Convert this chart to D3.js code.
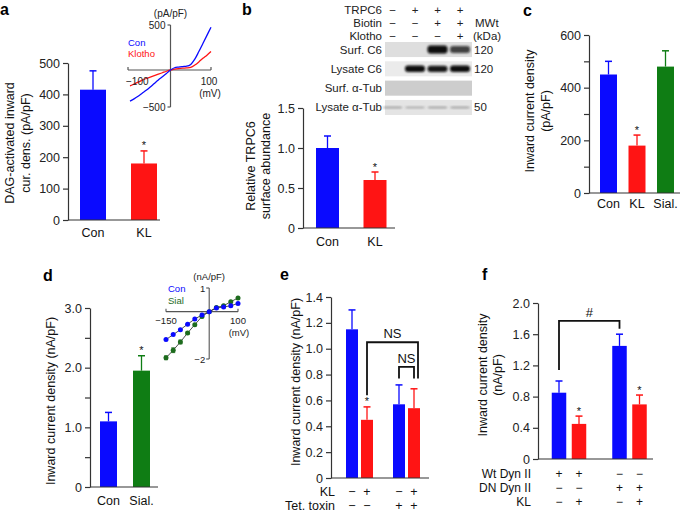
<!DOCTYPE html>
<html><head><meta charset="utf-8">
<script src="https://cdn.jsdelivr.net/npm/d3@7"></script>
<style>
body{margin:0;background:#fff;}
svg{font-family:"Liberation Sans", Arial, Helvetica, sans-serif;}
</style></head><body>
<svg id="chart" width="685" height="513"></svg>
<script>
// ---------------- DATA ----------------
// Panel a
const aCategories = ["Con", "KL"];
const aMeans = [415, 180];
const aErrors = [60, 40];
const aSignif = ["", "*"];
const aTicks = [0, 100, 200, 300, 400, 500];
// Panel a inset (I–V curves)
const aIvVoltage = [-100,-90,-80,-70,-60,-50,-40,-30,-20,-10,0,10,20,30,40,50,60,70,80,90,100];
const aIvCon =    [-420,-390,-355,-315,-275,-230,-182,-135,-92,-48,0,25,33,38,42,62,120,205,295,385,475];
const aIvKlotho = [-215,-190,-165,-138,-115,-95,-76,-57,-37,-17,0,10,16,20,23,30,55,90,130,165,205];
const aIvSeries = ["Con", "Klotho"];
// Panel b
const bCategories = ["Con", "KL"];
const bMeans = [1.0, 0.6];
const bErrors = [0.15, 0.1];
const bSignif = ["", "*"];
const bTicks = [0, 0.5, 1.0, 1.5];
const bTableRows = ["TRPC6", "Biotin", "Klotho"];
const bTableSigns = [["−","+","+","+"],["−","−","+","+"],["−","−","−","+"]];
const bBlotRows = ["Surf. C6", "Lysate C6", "Surf. α-Tub", "Lysate α-Tub"];
const bBandIntensity = [[0,0,1,0.75],[0,1,0.95,1],[0,0,0,0],[0.6,0.5,0.6,0.6]];
const bMWt = ["120", "120", "", "50"];
// Panel c
const cCategories = ["Con", "KL", "Sial."];
const cMeans = [450, 180, 480];
const cErrors = [50, 40, 60];
const cSignif = ["", "*", ""];
const cTicks = [0, 100, 200, 300, 400, 500, 600];
// Panel d
const dCategories = ["Con", "Sial."];
const dMeans = [1.1, 1.95];
const dErrors = [0.15, 0.25];
const dSignif = ["", "*"];
const dTicks = [0, 0.5, 1.0, 1.5, 2.0, 2.5, 3.0];
// Panel d inset
const dIvVoltage = [-150,-125,-100,-75,-50,-25,0,25,50,75,100];
const dIvCon =  [-1.18,-0.97,-0.76,-0.53,-0.31,-0.14,0,0.15,0.2,0.25,0.35];
const dIvSial = [-1.95,-1.63,-1.28,-0.9,-0.55,-0.2,0,0.18,0.25,0.42,0.58];
const dIvSialErr = [0.08,0.1,0.08,0.04,0,0,0,0,0,0,0];
const dIvSeries = ["Con", "Sial"];
// Panel e
const eKL  = ["−","+","−","+"];
const eTTX = ["−","−","+","+"];
const eMeans = [1.15, 0.45, 0.57, 0.54];
const eErrors = [0.15, 0.10, 0.15, 0.15];
const eSignif = ["", "*", "", ""];
const eTicks = [0, 0.2, 0.4, 0.6, 0.8, 1.0, 1.2, 1.4];
const eBrackets = [
  {from: 1, to: 3, top: 1.05, end1: 0.64, end2: 0.77, label: "NS"},
  {from: 2, to: 3, top: 0.86, end1: 0.77, end2: 0.77, label: "NS"}
];
// Panel f
const fWt = ["+","+","−","−"];
const fDN = ["−","−","+","+"];
const fKL = ["−","+","−","+"];
const fMeans = [0.85, 0.45, 1.45, 0.70];
const fErrors = [0.15, 0.10, 0.15, 0.12];
const fSignif = ["", "*", "", "*"];
const fTicks = [0, 0.4, 0.8, 1.2, 1.6, 2.0];
const fBrackets = [{from: 0, to: 2, top: 1.77, end1: 1.14, end2: 1.67, label: "#"}];

// ---------------- STYLE ----------------
const BLUE = "#0a0aff", RED = "#ff1414", GREEN = "#0f7d14", DKGREEN = "#1d6b1d";
const AX = "#333";
const svg = d3.select("#chart");

function yAxis(g, y, x, ticks, fmt) {
  const ax = d3.axisLeft(y).tickValues(ticks).tickFormat(fmt).tickSize(5).tickSizeOuter(0).tickPadding(3);
  const a = g.append("g").attr("transform", `translate(${x},0)`).call(ax);
  a.attr("font-family", null).attr("font-size", null);
  a.select(".domain").attr("stroke", AX).attr("stroke-width", 1.2);
  a.selectAll(".tick line").attr("stroke", AX).attr("stroke-width", 1.2);
  a.selectAll(".tick text").attr("fill", "#222").style("font-size", "12.5px");
  return a;
}
function xLine(g, y, x0, x1) {
  g.append("line").attr("x1", x0).attr("x2", x1).attr("y1", y(0)).attr("y2", y(0))
    .attr("stroke", AX).attr("stroke-width", 1.2);
}
function bars(g, y, cx, w, means, errs, colors, signif) {
  const d = means.map((m, i) => ({m, e: errs[i], c: colors[i], x: cx[i], s: signif[i]}));
  g.selectAll(null).data(d).join("rect")
    .attr("x", d => d.x - w / 2).attr("width", w)
    .attr("y", d => y(d.m)).attr("height", d => y(0) - y(d.m)).attr("fill", d => d.c);
  g.selectAll(null).data(d).join("line")
    .attr("x1", d => d.x).attr("x2", d => d.x).attr("y1", d => y(d.m)).attr("y2", d => y(d.m + d.e))
    .attr("stroke", d => d.c).attr("stroke-width", 1.3);
  g.selectAll(null).data(d).join("line")
    .attr("x1", d => d.x - 3.5).attr("x2", d => d.x + 3.5).attr("y1", d => y(d.m + d.e)).attr("y2", d => y(d.m + d.e))
    .attr("stroke", d => d.c).attr("stroke-width", 1.5);
  g.selectAll(null).data(d.filter(d => d.s)).join("text")
    .attr("x", d => d.x).attr("y", d => y(d.m + d.e) - 1.5).attr("text-anchor", "middle")
    .style("font-size", "11px").attr("fill", "#111").text(d => d.s);
}
function catLabels(g, cx, labels, yb) {
  g.selectAll(null).data(labels).join("text").attr("x", (d, i) => cx[i]).attr("y", yb)
    .attr("text-anchor", "middle").style("font-size", "12.5px").attr("fill", "#111").text(d => d);
}
function yTitle(g, lines, xs, yc, fs) {
  lines.forEach((t, i) => {
    g.append("text").attr("transform", `translate(${xs[i]},${yc}) rotate(-90)`)
      .attr("text-anchor", "middle").attr("dy", "0.35em").style("font-size", (fs || 12.5) + "px")
      .attr("fill", "#111").text(t);
  });
}
function panelLetter(x, y, t) {
  svg.append("text").attr("x", x).attr("y", y).style("font-size", "16px").style("font-weight", "bold")
    .attr("fill", "#000").text(t);
}
function bracket(g, y, x1, x2, b) {
  g.append("path").attr("d", `M${x1},${y(b.end1)}V${y(b.top)}H${x2}V${y(b.end2)}`)
    .attr("fill", "none").attr("stroke", "#111").attr("stroke-width", 1.8);
  g.append("text").attr("x", (x1 + x2) / 2).attr("y", y(b.top) - 4).attr("text-anchor", "middle")
    .style("font-size", "13px").attr("fill", "#111").text(b.label);
}
function signRows(g, cx, rowNames, rowSigns, baselines, labelX, fs) {
  rowNames.forEach((n, r) => {
    g.append("text").attr("x", labelX).attr("y", baselines[r]).attr("text-anchor", "end")
      .style("font-size", fs + "px").attr("fill", "#111").text(n);
    g.selectAll(null).data(rowSigns[r]).join("text").attr("x", (d, i) => cx[i]).attr("y", baselines[r])
      .attr("text-anchor", "middle").style("font-size", fs + "px").attr("fill", "#111").text(d => d);
  });
}

// ---------------- PANEL A ----------------
{
  const g = svg.append("g");
  const y = d3.scaleLinear().domain([0, 500]).range([220, 63]);
  const x = d3.scalePoint().domain(aCategories).range([93, 144]);
  const cx = aCategories.map(x);
  bars(g, y, cx, 26, aMeans, aErrors, [BLUE, RED], aSignif);
  yAxis(g, y, 68, aTicks, d3.format("d"));
  xLine(g, y, 68, 160);
  catLabels(g, cx, aCategories, 237);
  yTitle(g, ["DAG-activated inward", "cur. dens. (pA/pF)"], [10, 26], 143);
  panelLetter(0, 15, "a");

  // inset
  const ix = d3.scaleLinear().domain([-100, 100]).range([130, 211]);
  const iy = d3.scaleLinear().domain([-500, 0, 500]).range([107, 70, 25]);
  const ig = svg.append("g");
  ig.append("line").attr("x1", ix(0)).attr("x2", ix(0)).attr("y1", iy(500)).attr("y2", iy(-500)).attr("stroke", "#555").attr("stroke-width", 1.2);
  ig.append("line").attr("x1", ix(-100) - 2).attr("x2", ix(100)).attr("y1", iy(0)).attr("y2", iy(0)).attr("stroke", "#555").attr("stroke-width", 1.2);
  [500, -500].forEach(v => ig.append("line").attr("x1", ix(0) - 3).attr("x2", ix(0)).attr("y1", iy(v)).attr("y2", iy(v)).attr("stroke", "#555").attr("stroke-width", 1.2));
  [-100, 100].forEach(v => ig.append("line").attr("x1", ix(v) + (v < 0 ? -2 : 0)).attr("x2", ix(v) + (v < 0 ? -2 : 0)).attr("y1", iy(0)).attr("y2", iy(0) - 3).attr("stroke", "#555").attr("stroke-width", 1.2));
  const line = d3.line().x((d, i) => ix(aIvVoltage[i])).y(d => iy(d)).curve(d3.curveMonotoneX);
  ig.append("path").attr("d", line(aIvKlotho)).attr("fill", "none").attr("stroke", RED).attr("stroke-width", 1.3);
  ig.append("path").attr("d", line(aIvCon)).attr("fill", "none").attr("stroke", BLUE).attr("stroke-width", 1.3);
  const tx = (x, y, t, anchor, fs, col) => ig.append("text").attr("x", x).attr("y", y).attr("text-anchor", anchor)
    .style("font-size", fs + "px").attr("fill", col || "#222").text(t);
  tx(ix(0), 17, "(pA/pF)", "middle", 10);
  tx(ix(0) - 5, iy(500) + 3.5, "500", "end", 10);
  tx(ix(0) - 5, iy(-500) + 3.5, "−500", "end", 10);
  tx(ix(-100) - 4, iy(0) + 15, "−100", "start", 10);
  tx(ix(100) - 2, iy(0) + 15, "100", "middle", 10);
  tx(ix(100) - 1, iy(0) + 27, "(mV)", "middle", 10);
  tx(128, 46, aIvSeries[0], "start", 9.5, BLUE);
  tx(128, 57, aIvSeries[1], "start", 9.5, RED);
}

// ---------------- PANEL B ----------------
{
  const g = svg.append("g");
  const y = d3.scaleLinear().domain([0, 1.5]).range([228, 108]);
  const x = d3.scalePoint().domain(bCategories).range([327.5, 375]);
  const cx = bCategories.map(x);
  bars(g, y, cx, 23, bMeans, bErrors, [BLUE, RED], bSignif);
  yAxis(g, y, 303, bTicks, d => d === 0 ? "0" : d3.format(".1f")(d));
  xLine(g, y, 303, 395);
  catLabels(g, cx, bCategories, 246);
  yTitle(g, ["Relative TRPC6", "surface abundance"], [251, 266], 166);
  panelLetter(242, 15, "b");

  // blot table
  const col = d3.scalePoint().domain(d3.range(4)).range([392.5, 460]);
  const tRow = d3.scalePoint().domain(bTableRows).range([10, 36]);
  const tg = svg.append("g");
  bTableRows.forEach((r, i) => {
    tg.append("text").attr("x", 382).attr("y", tRow(r)).attr("dy", "0.35em").attr("text-anchor", "end")
      .style("font-size", "11.5px").attr("fill", "#222").text(r);
    tg.selectAll(null).data(bTableSigns[i]).join("text").attr("x", (d, j) => col(j)).attr("y", tRow(r)).attr("dy", "0.35em")
      .attr("text-anchor", "middle").style("font-size", "11.5px").attr("fill", "#222").text(d => d);
  });
  tg.append("text").attr("x", 475).attr("y", tRow("Biotin")).attr("dy", "0.35em").style("font-size", "11.5px").attr("fill", "#222").text("MWt");
  tg.append("text").attr("x", 473).attr("y", tRow("Klotho")).attr("dy", "0.35em").style("font-size", "11.5px").attr("fill", "#222").text("(kDa)");

  const defs = svg.append("defs");
  defs.append("filter").attr("id", "blur").attr("x", "-20%").attr("y", "-50%").attr("width", "140%").attr("height", "200%")
    .append("feGaussianBlur").attr("stdDeviation", 0.9);
  const bRow = d3.scaleBand().domain(bBlotRows).range([42, 115]).paddingInner(0.22);
  const boxFill = ["#dedede", "#ebebeb", "#cdcdcd", "#e4e4e4"];
  const bandH = [8, 6.5, 0, 2];
  bBlotRows.forEach((r, i) => {
    const yy = bRow(r), h = bRow.bandwidth();
    tg.append("text").attr("x", 382).attr("y", yy + h / 2).attr("dy", "0.35em").attr("text-anchor", "end")
      .style("font-size", "11.5px").attr("fill", "#222").text(r);
    tg.append("rect").attr("x", 385).attr("y", yy).attr("width", 87).attr("height", h).attr("fill", boxFill[i]);
    tg.selectAll(null).data(bBandIntensity[i]).join("rect")
      .attr("x", (d, j) => col(j) - 10).attr("width", 20)
      .attr("y", d => yy + h / 2 - bandH[i] * (0.55 + 0.45 * d) / 2).attr("height", d => bandH[i] * (0.55 + 0.45 * d))
      .attr("rx", 3).attr("fill", i === 3 ? "#555" : "#0a0a0a").attr("opacity", d => d)
      .attr("filter", "url(#blur)");
    if (bMWt[i]) tg.append("text").attr("x", 474).attr("y", yy + h / 2).attr("dy", "0.35em")
      .style("font-size", "11.5px").attr("fill", "#222").text(bMWt[i]);
  });
}

// ---------------- PANEL C ----------------
{
  const g = svg.append("g");
  const y = d3.scaleLinear().domain([0, 600]).range([193, 35]);
  const x = d3.scalePoint().domain(cCategories).range([608.5, 665.5]);
  const cx = cCategories.map(x);
  bars(g, y, cx, 17, cMeans, cErrors, [BLUE, RED, GREEN], cSignif);
  yAxis(g, y, 589, cTicks, d => d % 200 === 0 ? d : "");
  xLine(g, y, 589, 680);
  catLabels(g, cx, cCategories, 208);
  yTitle(g, ["Inward current density", "(pA/pF)"], [530, 546], 111);
  panelLetter(523, 16, "c");
}

// ---------------- PANEL D ----------------
{
  const g = svg.append("g");
  const y = d3.scaleLinear().domain([0, 3]).range([487, 308]);
  const x = d3.scalePoint().domain(dCategories).range([108.5, 141.5]);
  const cx = dCategories.map(x);
  bars(g, y, cx, 17, dMeans, dErrors, [BLUE, GREEN], dSignif);
  yAxis(g, y, 90, dTicks, d => d === 0 ? "0" : (d % 1 === 0 ? d3.format(".1f")(d) : ""));
  xLine(g, y, 90, 158);
  catLabels(g, cx, dCategories, 505);
  yTitle(g, ["Inward current density (nA/pF)"], [51], 401);
  panelLetter(43, 281, "d");

  // inset
  const ix = d3.scaleLinear().domain([-150, 100]).range([166, 238]);
  const iy = d3.scaleLinear().domain([-2, 1]).range([359, 288]);
  const ig = svg.append("g");
  ig.append("line").attr("x1", ix(0)).attr("x2", ix(0)).attr("y1", iy(1)).attr("y2", iy(-2)).attr("stroke", "#555").attr("stroke-width", 1.1);
  ig.append("line").attr("x1", ix(-150)).attr("x2", ix(100)).attr("y1", iy(0)).attr("y2", iy(0)).attr("stroke", "#555").attr("stroke-width", 1.1);
  [1, -2].forEach(v => ig.append("line").attr("x1", ix(0) - 3).attr("x2", ix(0)).attr("y1", iy(v)).attr("y2", iy(v)).attr("stroke", "#555").attr("stroke-width", 1.1));
  [-150, 100].forEach(v => ig.append("line").attr("x1", ix(v)).attr("x2", ix(v)).attr("y1", iy(0)).attr("y2", iy(0) - 3).attr("stroke", "#555").attr("stroke-width", 1.1));
  const line = d3.line().x((d, i) => ix(dIvVoltage[i])).y(d => iy(d));
  [dIvCon, dIvSial].forEach(s => {
    ig.append("path").attr("d", line(s)).attr("fill", "none").attr("stroke", "#222").attr("stroke-width", 0.8);
  });
  dIvSial.forEach((v, i) => {
    const e = dIvSialErr[i];
    if (e > 0) {
      const xx = ix(dIvVoltage[i]);
      ig.append("path").attr("d", `M${xx},${iy(v - e)}V${iy(v + e)}M${xx - 2},${iy(v - e)}H${xx + 2}M${xx - 2},${iy(v + e)}H${xx + 2}`)
        .attr("stroke", DKGREEN).attr("stroke-width", 0.9).attr("fill", "none");
    }
  });
  [[dIvSial, DKGREEN], [dIvCon, BLUE]].forEach(([s, c]) => {
    ig.selectAll(null).data(s).join("circle").attr("cx", (d, i) => ix(dIvVoltage[i])).attr("cy", d => iy(d))
      .attr("r", 2.5).attr("fill", c);
  });
  const tx = (x, y, t, anchor, fs, col) => ig.append("text").attr("x", x).attr("y", y).attr("text-anchor", anchor)
    .style("font-size", fs + "px").attr("fill", col || "#222").text(t);
  tx(ix(0), 280, "(nA/pF)", "middle", 9.5);
  tx(ix(0) - 4, iy(1) + 3.5, "1", "end", 9.5);
  tx(ix(0) - 4, iy(-2) + 3.5, "−2", "end", 9.5);
  tx(ix(-150), iy(0) + 12, "−150", "middle", 9.5);
  tx(ix(100), iy(0) + 12, "100", "middle", 9.5);
  tx(ix(100) + 1, iy(0) + 24, "(mV)", "middle", 9.5);
  tx(168, 292, dIvSeries[0], "start", 9.5, BLUE);
  tx(168, 304, dIvSeries[1], "start", 9.5, DKGREEN);
}

// ---------------- PANEL E ----------------
{
  const g = svg.append("g");
  const y = d3.scaleLinear().domain([0, 1.4]).range([478, 297]);
  const grp = d3.scalePoint().domain(["−", "+"]).range([359.5, 406.5]);
  const inner = d3.scalePoint().domain(["−", "+"]).range([-7.5, 7.5]);
  const cx = eMeans.map((m, i) => grp(eTTX[i]) + inner(eKL[i]));
  bars(g, y, cx, 12, eMeans, eErrors, eKL.map(k => k === "+" ? RED : BLUE), eSignif);
  yAxis(g, y, 331, eTicks, d => d === 0 ? "0" : d3.format(".1f")(d));
  xLine(g, y, 331, 429);
  eBrackets.forEach((b, i) => bracket(g, y, cx[b.from], cx[b.to] + (i === 0 ? 4 : 0), b));
  signRows(g, cx, ["KL", "Tet. toxin"], [eKL, eTTX], [496, 510], 335, 12.5);
  yTitle(g, ["Inward current density (nA/pF)"], [296], 382);
  panelLetter(280, 280, "e");
}

// ---------------- PANEL F ----------------
{
  const g = svg.append("g");
  const y = d3.scaleLinear().domain([0, 2.0]).range([459, 303]);
  const grp = d3.scalePoint().domain(["−", "+"]).range([569, 629.5]);
  const inner = d3.scalePoint().domain(["−", "+"]).range([-10, 10]);
  const cx = fMeans.map((m, i) => grp(fDN[i]) + inner(fKL[i]));
  bars(g, y, cx, 14.5, fMeans, fErrors, fKL.map(k => k === "+" ? RED : BLUE), fSignif);
  yAxis(g, y, 538, fTicks, d => d === 0 ? "0" : d3.format(".1f")(d));
  xLine(g, y, 538, 653);
  fBrackets.forEach(b => bracket(g, y, cx[b.from], cx[b.to], b));
  signRows(g, cx, ["Wt Dyn II", "DN Dyn II", "KL"], [fWt, fDN, fKL], [478, 491.5, 506], 531, 12);
  yTitle(g, ["Inward current density", "(nA/pF)"], [483, 498], 375);
  panelLetter(482, 280, "f");
}
</script>
</body></html>
